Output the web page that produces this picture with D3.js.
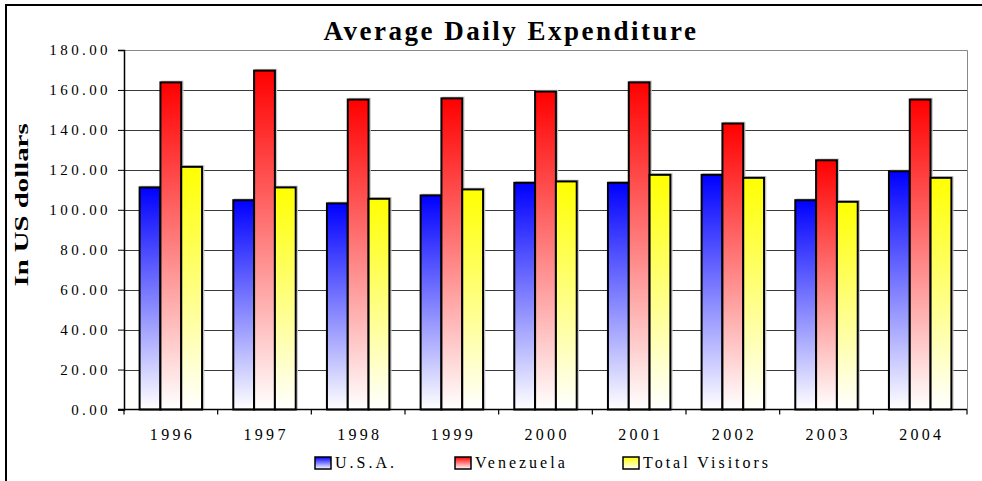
<!DOCTYPE html>
<html>
<head>
<meta charset="utf-8">
<script src="https://cdnjs.cloudflare.com/ajax/libs/d3/7.8.5/d3.min.js"></script>
<style>
  html, body { margin: 0; padding: 0; background: #fff; }
  svg { display: block; }
  text { font-family: "Liberation Serif", "Times New Roman", serif; fill: #000; }
</style>
</head>
<body>
<div id="chart"></div>
<script>
// data
var years = ["1996", "1997", "1998", "1999", "2000", "2001", "2002", "2003", "2004"];
var seriesNames = ["U.S.A.", "Venezuela", "Total Visitors"];
var usa = [111.2, 104.8, 103.2, 107.2, 113.5, 113.5, 117.5, 104.8, 119.3];
var venezuela = [163.8, 169.7, 155.2, 155.8, 159.2, 163.8, 143.2, 124.8, 155.2];
var totalVisitors = [121.5, 111.2, 105.5, 110.2, 114.2, 117.5, 116.0, 104.0, 116.0];
var yTicks = [0, 20, 40, 60, 80, 100, 120, 140, 160, 180];
var seriesColors = ["#0000ff", "#ff0000", "#ffff00"];

var width = 982, height = 481;
var plot = {left: 124, right: 967, top: 50, bottom: 409.5};

var svg = d3.select("#chart").append("svg")
    .attr("width", width)
    .attr("height", height);

var defs = svg.append("defs");
seriesColors.forEach(function(c, i) {
  var g = defs.append("linearGradient")
      .attr("id", "grad" + i)
      .attr("x1", 0).attr("y1", 0).attr("x2", 0).attr("y2", 1);
  g.append("stop").attr("offset", "0%").attr("stop-color", c);
  g.append("stop").attr("offset", "100%").attr("stop-color", "#ffffff");
});

// outer chart border (runs off right/bottom like the reference)
svg.append("rect")
    .attr("x", 6).attr("y", 5)
    .attr("width", 1000).attr("height", 500)
    .attr("fill", "none")
    .attr("stroke", "#000")
    .attr("stroke-width", 2);

var xScale = d3.scaleBand()
    .domain(years)
    .range([plot.left, plot.right]);

// Excel style: gap width 150% -> each group = 3 bars + 1.5 bar of gap
var barW = xScale.bandwidth() / 4.5;

var yScale = d3.scaleLinear()
    .domain([0, 180])
    .range([plot.bottom, plot.top]);

// gridlines
svg.append("g")
  .selectAll("line")
  .data(yTicks.filter(function(d) { return d > 0; }))
  .enter().append("line")
    .attr("x1", plot.left).attr("x2", plot.right)
    .attr("y1", function(d) { return Math.round(yScale(d)) + 0.5; })
    .attr("y2", function(d) { return Math.round(yScale(d)) + 0.5; })
    .attr("stroke", "#3a3a3a")
    .attr("stroke-width", 1);

// plot area frame (top + right in grey)
svg.append("path")
    .attr("d", "M" + plot.left + "," + (plot.top + 0.5) + "H" + (plot.right + 0.5) + "V" + plot.bottom)
    .attr("fill", "none")
    .attr("stroke", "#888")
    .attr("stroke-width", 1);

var table = years.map(function(y, i) {
  return {year: y, values: [usa[i], venezuela[i], totalVisitors[i]]};
});

var groups = svg.append("g").selectAll("g")
    .data(table)
  .enter().append("g")
    .attr("transform", function(d) {
      return "translate(" + (xScale(d.year) + xScale.bandwidth() / 2 - 1.5 * barW) + ",0)";
    });

// faint shadow
groups.selectAll(".shadow")
    .data(function(d) { return d.values; })
  .enter().append("rect")
    .attr("class", "shadow")
    .attr("x", function(d, i) { return i * barW + 1.5; })
    .attr("y", function(d) { return yScale(d) - 1; })
    .attr("width", barW)
    .attr("height", function(d) { return yScale(0) - yScale(d) + 1; })
    .attr("fill", "none")
    .attr("stroke", "#c8c8c8")
    .attr("stroke-width", 1.5);

groups.selectAll(".bar")
    .data(function(d) { return d.values; })
  .enter().append("rect")
    .attr("class", "bar")
    .attr("x", function(d, i) { return i * barW; })
    .attr("y", function(d) { return yScale(d); })
    .attr("width", barW)
    .attr("height", function(d) { return yScale(0) - yScale(d); })
    .attr("fill", function(d, i) { return "url(#grad" + i + ")"; })
    .attr("stroke", "#000")
    .attr("stroke-width", 2);

// y axis
var yAxis = d3.axisLeft(yScale)
    .tickValues(yTicks)
    .tickSize(6)
    .tickPadding(7)
    .tickFormat(d3.format(".2f"));

var yG = svg.append("g")
    .attr("transform", "translate(" + plot.left + ",0)")
    .call(yAxis);
yG.select(".domain").attr("stroke", "#000").attr("stroke-width", 1.5);
yG.selectAll(".tick line").attr("stroke", "#000");
yG.selectAll("text")
    .style("font-family", "Liberation Serif")
    .style("font-size", "15px")
    .style("letter-spacing", "3.4px")
    .attr("fill", "#000");

// x axis
var xAxis = d3.axisBottom(xScale)
    .tickSize(0)
    .tickPadding(0);

var xG = svg.append("g")
    .attr("transform", "translate(0," + plot.bottom + ")")
    .call(xAxis);
xG.select(".domain").remove();
xG.selectAll("text")
    .attr("y", 30)
    .attr("dy", null)
    .attr("dx", 1.6)
    .style("font-family", "Liberation Serif")
    .style("font-size", "16px")
    .style("letter-spacing", "3.3px")
    .attr("fill", "#000");

svg.append("line")
    .attr("x1", plot.left - 6).attr("x2", plot.right)
    .attr("y1", plot.bottom).attr("y2", plot.bottom)
    .attr("stroke", "#000").attr("stroke-width", 1.5);

svg.append("g").selectAll("line")
    .data(years.concat(["end"]))
  .enter().append("line")
    .attr("x1", function(d, i) { return plot.left + i * xScale.step(); })
    .attr("x2", function(d, i) { return plot.left + i * xScale.step(); })
    .attr("y1", plot.bottom)
    .attr("y2", plot.bottom + 5)
    .attr("stroke", "#000")
    .attr("stroke-width", 1.2);

// title
svg.append("text")
    .attr("x", 511)
    .attr("y", 40)
    .attr("text-anchor", "middle")
    .style("font-size", "27px")
    .style("font-weight", "bold")
    .style("letter-spacing", "2.5px")
    .text("Average Daily Expenditure");

// y axis title (glyphs stretched along the baseline, as in the reference)
svg.append("text")
    .attr("transform", "translate(28,205) rotate(-90) scale(1.6,1)")
    .attr("text-anchor", "middle")
    .style("font-size", "18px")
    .style("font-weight", "bold")
    .text("In US dollars");

// legend
var legendX = [315, 455, 623];
var legend = svg.append("g").selectAll("g")
    .data(seriesNames)
  .enter().append("g")
    .attr("transform", function(d, i) { return "translate(" + legendX[i] + ",457)"; });

legend.append("rect")
    .attr("x", 0).attr("y", 0)
    .attr("width", 16).attr("height", 12)
    .attr("fill", function(d, i) { return "url(#grad" + i + ")"; })
    .attr("stroke", "#000")
    .attr("stroke-width", 1.5);

legend.append("text")
    .attr("x", 20)
    .attr("y", 11)
    .style("font-size", "16px")
    .style("letter-spacing", "3px")
    .text(function(d) { return d; });
</script>
</body>
</html>
